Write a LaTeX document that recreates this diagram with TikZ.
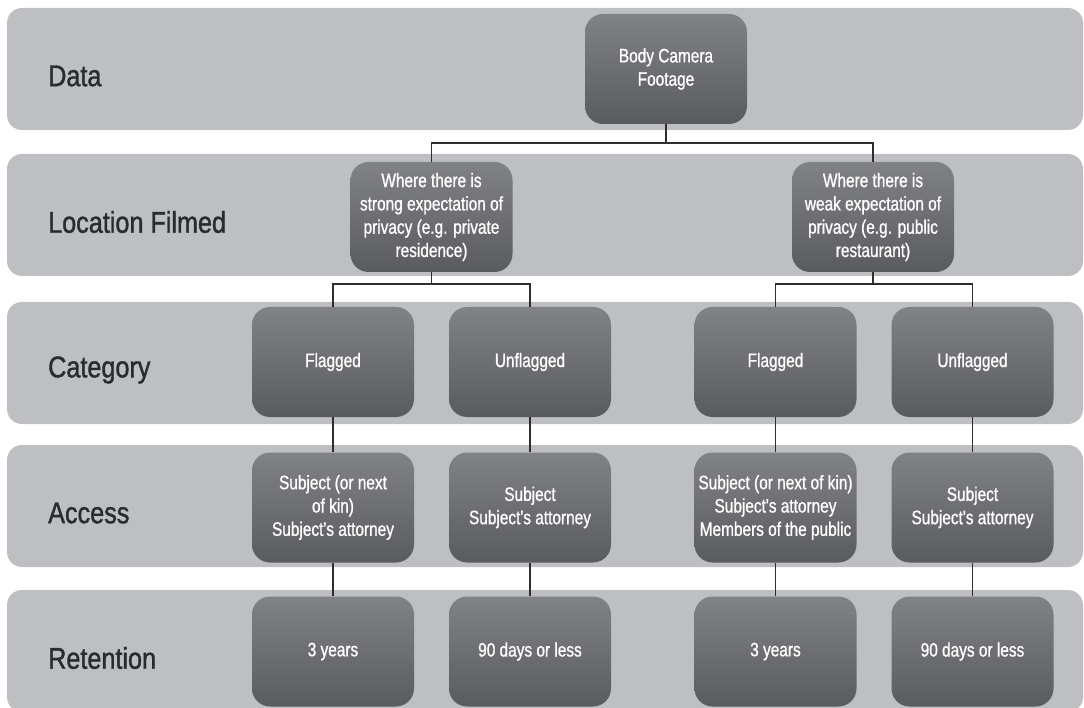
\documentclass[tikz,border=0pt]{standalone}
\usepackage{fontspec}
\setmainfont{Liberation Sans}
\newfontfamily\rowfont{Liberation Sans}[FakeStretch=0.84, FakeBold=1.2]
\newfontfamily\boxfont{Liberation Sans}[FakeStretch=0.79, FakeBold=0.9]
\usepackage{xcolor}
\usepackage{tikz}
\usetikzlibrary{positioning, calc}

\definecolor{bandgray}{HTML}{BEBFC2}
\definecolor{boxtop}{HTML}{818286}
\definecolor{boxbottom}{HTML}{5A5B5E}
\definecolor{linkgray}{HTML}{2E2E2E}
\definecolor{labelgray}{HTML}{2A2B2E}

\tikzset{
	band/.style={fill=bandgray, rounded corners=15pt},
	rowlabel/.style={anchor=west, text=labelgray, font=\rowfont\fontsize{30}{34}\selectfont, inner sep=0pt},
	box/.style={rounded corners=18pt, top color=boxtop, bottom color=boxbottom,
		minimum width=162pt, minimum height=110pt, inner sep=2pt, align=center,
		text=white, font=\boxfont\fontsize{19.5}{23.3}\selectfont},
	link/.style={draw=linkgray, line width=1.6pt}
}

\begin{document}
\begin{tikzpicture}[x=1pt, y=-1pt]
	\useasboundingbox (0,0) rectangle (1084,708);
	
	% Define constants
	\def\bandh{122}  % Height of a band
	\def\xa{333}     % Column centres
	\def\xb{530}
	\def\xc{775.5}
	\def\xd{972.5}
	
	% Draw background bands with row labels
	\foreach \top/\name in {8/Data, 154/Location Filmed, 302/Category, 445/Access, 590/Retention} {
		\fill[band] (7,\top) rectangle (1083,\top+\bandh);
		\node[rowlabel] at (48,\top+68) {\name};
	}
	
	% Data level
	\node[box] (body) at (666,69) {Body Camera\\Footage};
	
	% Location filmed level
	\node[box] (strong) at (431.5,217) {Where there is\\strong expectation of\\privacy (e.g. private\\residence)};
	\node[box] (weak) at (873,217) {Where there is\\weak expectation of\\privacy (e.g. public\\restaurant)};
	
	% Category level
	\node[box] (flagA) at (\xa,362) {Flagged};
	\node[box] (unflagA) at (\xb,362) {Unflagged};
	\node[box] (flagB) at (\xc,362) {Flagged};
	\node[box] (unflagB) at (\xd,362) {Unflagged};
	
	% Access level
	\node[box] (accA) at (\xa,507.5) {Subject (or next\\of kin)\\Subject's attorney};
	\node[box] (accB) at (\xb,507.5) {Subject\\Subject's attorney};
	\node[box] (accC) at (\xc,507.5) {Subject (or next of kin)\\Subject's attorney\\Members of the public};
	\node[box] (accD) at (\xd,507.5) {Subject\\Subject's attorney};
	
	% Retention level
	\node[box] (retA) at (\xa,651.5) {3 years};
	\node[box] (retB) at (\xb,651.5) {90 days or less};
	\node[box] (retC) at (\xc,651.5) {3 years};
	\node[box] (retD) at (\xd,651.5) {90 days or less};
	
	% Branch points
	\coordinate (fork0) at (666,143);
	\coordinate (forkA) at (431.5,284);
	\coordinate (forkB) at (873,284);
	
	% Connectors
	\draw[link] (body.south) -- (fork0);
	\draw[link] (fork0) -| (strong.north);
	\draw[link] (fork0) -| (weak.north);
	\draw[link] (strong.south) -- (forkA);
	\draw[link] (forkA) -| (flagA.north);
	\draw[link] (forkA) -| (unflagA.north);
	\draw[link] (weak.south) -- (forkB);
	\draw[link] (forkB) -| (flagB.north);
	\draw[link] (forkB) -| (unflagB.north);
	
	\foreach \c/\a/\r in {flagA/accA/retA, unflagA/accB/retB, flagB/accC/retC, unflagB/accD/retD} {
		\draw[link] (\c.south) -- (\a.north);
		\draw[link] (\a.south) -- (\r.north);
	}
	
\end{tikzpicture}
\end{document}
